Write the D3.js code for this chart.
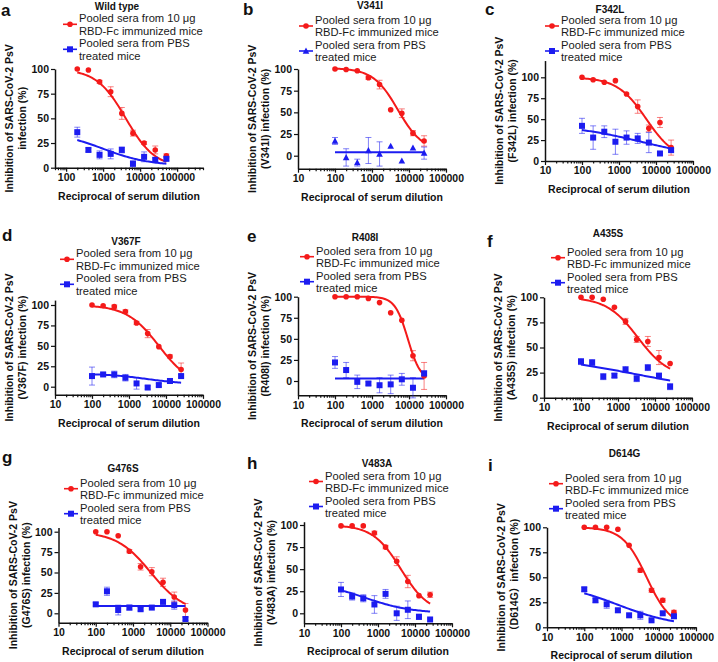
<!DOCTYPE html>
<html><head><meta charset="utf-8">
<script src="https://cdn.jsdelivr.net/npm/d3@7"></script>
<style>
body{margin:0;background:#fff}
svg{display:block}
text{font-family:"Liberation Sans",Arial,"Noto Sans CJK SC",sans-serif}
</style>
</head><body>
<svg id="chart" width="718" height="662"></svg>
<script>
// ---------------- data ----------------
const dilutionsWT = [200, 400, 800, 1600, 3200, 6400, 12800, 25600, 51200];
const dilutions = [100, 200, 400, 800, 1600, 3200, 6400, 12800, 25600];
const panelLetters = ["a", "b", "c", "d", "e", "f", "g", "h", "i"];
const panelTitles = ["Wild type", "V341I", "F342L", "V367F", "R408I", "A435S", "G476S", "V483A", "D614G"];
const yLabelLine1 = "Inhibition of SARS-CoV-2 PsV";
const yLabelLine2 = ["infection (%)", "(V341I) infection (%)", "(F342L) infection (%)", "(V367F) infection (%)",
  "(R408I) infection (%)", "(A435S) infection (%)", "(G476S) infection (%)", "(V483A) infection (%)", "（D614G）infection (%)"];
const xAxisTitle = "Reciprocal of serum dilution";
const legendRed = ["Pooled sera from 10 μg", "RBD-Fc immunized mice"];
const legendBlue = ["Pooled sera from PBS", "treated mice"];
const yTickValues = [0, 25, 50, 75, 100];
const xTickValues = [10, 100, 1000, 10000, 100000];

const redMeans = [
  [100, 99, 87, 77, 55, 35, 25, 18, 12],
  [100, 99.5, 98, 90, 82, 53, 49, 26, 17],
  [100, 97, 94, 96, 80, 65, 39, 46, 16],
  [100, 99, 98, 92, 78, 65, 49, 37, 21],
  [100, 100, 100, 98, 93, 81, 72, 30, 6],
  [100, 100, 98, 90, 76, 58, 56, 40, 34],
  [100, 100, 95, 76, 57, 51, 38, 20, 4],
  [99, 99, 99, 91, 75, 59, 36, 20, 21],
  [100, 100, 100, 98, 82, 57, 37, 27, 15]
];
const redErrors = [
  [1, 1, 1.5, 5, 6, 3, 1.5, 4, 2],
  [1, 1, 1, 2, 5, 1, 5, 3, 6],
  [1, 1, 1, 1, 1, 8, 4, 6, 9],
  [1, 1, 2, 2, 2, 5, 1, 2, 8],
  [1, 1, 1, 1, 1, 1, 1, 6, 16],
  [1, 1, 1, 1, 3, 3, 5, 7, 1],
  [1, 1, 1, 2, 4, 5, 5, 6, 8],
  [1, 1, 1, 2, 2, 5, 7, 1, 3],
  [1, 1, 1, 1, 1, 2, 2, 2, 2]
];
const blueMeans = [
  [36, 18, 13, 14, 18, 4, 11, 8, 9],
  [17, -2, -8, 6, 2, 11, -6, 9, 3],
  [42, 28, 35, 23, 28, 27, 22, 9, 13],
  [13, 15, 15, 11, 4, -1, 2, 7, 13],
  [22, 13, -1, -3, -5, -4, 2, -8, 9],
  [36, 35, 21, 22, 28, 19, 30, 22, 11],
  [11, 27, 4, 7, 5, 7, 14, 10, -7],
  [27, 19, 17, 10, 22, 0, 4, -4, -7],
  [38, 27, 23, 17, 12, 12, 7, 14, 11]
];
const blueErrors = [
  [5, 2, 4, 5, 3, 3, 5, 2, 2],
  [4, 10, 4, 15, 14, 1, 1, 1, 7],
  [9, 14, 7, 15, 8, 6, 12, 1, 2],
  [11, 2, 4, 4, 7, 2, 2, 3, 2],
  [7, 9, 8, 2, 9, 11, 7, 12, 3],
  [3, 3, 3, 2, 3, 3, 3, 2, 3],
  [2, 5, 6, 3, 2, 1, 1, 5, 2],
  [8, 4, 4, 10, 5, 8, 10, 3, 1],
  [2, 2, 4, 2, 1, 4, 1, 1, 2]
];
// fitted four-parameter logistic curves: [bottom, top, IC50, hill]
const redFits = [
  [0, 100, 4100, 1.1], [5, 101, 5000, 1.3], [0, 100, 5500, 1.1],
  [0, 100, 6400, 1.0], [0, 100, 9300, 2.5], [20, 100, 3430, 1.03],
  [0, 100, 3000, 0.95], [0, 100, 4160, 1.15], [0, 100, 4730, 1.35]
];
const blueFits = [
  [2, 36.4, 1000, 0.7], [4, 4, 1000, 1], [0, 45, 4440, 0.404],
  [3, 16, 3000, 0.8], [3, 3, 1000, 1], [0, 45, 4110, 0.272],
  [9, 9, 1000, 1], [0, 35, 459, 0.697], [0, 45, 806, 0.54]
];
const blueMarker = ["square", "triangle", "square", "square", "square", "square", "square", "square", "square"];

// ---------------- layout (positions only) ----------------
const layout = [
  {x0: 55, x1: 203, xd: [50, 500000], y100: 69, yz: 167.7, ymin: 0, ymax: 100, letter: [1, 16], title: [117, 10], leg: [79, 18.3]},
  {x0: 298, x1: 446, xd: [10, 100000], y100: 69, yz: 155.7, ymin: -15, ymax: 100, letter: [243, 15], title: [370, 9], leg: [315, 20]},
  {x0: 545, x1: 693, xd: [10, 100000], y100: 77.3, yz: 161, ymin: 0, ymax: 120, letter: [485, 15], title: [610, 13], leg: [561, 20]},
  {x0: 55, x1: 203, xd: [10, 100000], y100: 305, yz: 386.7, ymin: -10, ymax: 106, letter: [2, 241], title: [126, 244.5], leg: [76, 253.3]},
  {x0: 298, x1: 446, xd: [10, 100000], y100: 296.7, yz: 381, ymin: -17, ymax: 100, letter: [247, 242], title: [365, 240.5], leg: [316, 250.7]},
  {x0: 544, x1: 692, xd: [10, 100000], y100: 297.3, yz: 397.7, ymin: 0, ymax: 100, letter: [487, 246.5], title: [608, 237], leg: [567, 251.7]},
  {x0: 58.5, x1: 207.5, xd: [10, 100000], y100: 531.7, yz: 613.3, ymin: -11.5, ymax: 105, letter: [2, 462.5], title: [123, 472], leg: [80, 482.7]},
  {x0: 304, x1: 452, xd: [10, 100000], y100: 525, yz: 613.3, ymin: -11.3, ymax: 103.7, letter: [247, 469], title: [377, 467], leg: [325, 475.5]},
  {x0: 547, x1: 696, xd: [10, 100000], y100: 527.3, yz: 627.3, ymin: 0, ymax: 100, letter: [488, 470.5], title: [624.5, 457], leg: [565, 477.7]}
];

const RED = "#f41a1a";
const BLUE = "#1c1cf0";
const svg = d3.select("#chart");

function logistic(p, x) {
  return p[0] + (p[1] - p[0]) / (1 + Math.pow(x / p[2], p[3]));
}

function drawMarker(g, type, cx, cy, color) {
  if (type === "circle") {
    g.append("circle").attr("cx", cx).attr("cy", cy).attr("r", 2.8).attr("fill", color);
  } else if (type === "square") {
    g.append("rect").attr("x", cx - 3).attr("y", cy - 3).attr("width", 6).attr("height", 6).attr("fill", color);
  } else {
    g.append("path").attr("d", `M${cx},${cy - 3.5}L${cx + 3.3},${cy + 2.7}L${cx - 3.3},${cy + 2.7}Z`).attr("fill", color);
  }
}

panelTitles.forEach((title, i) => {
  const L = layout[i];
  const g = svg.append("g");
  const xs = i === 0 ? dilutionsWT : dilutions;

  const x = d3.scaleLog().domain(L.xd).range([L.x0, L.x1]);
  const k = (L.yz - L.y100) / 100;
  const y = d3.scaleLinear().domain([L.ymin, L.ymax]).range([L.yz - L.ymin * k, L.yz - L.ymax * k]);
  const yBottom = y(L.ymin);

  // panel letter + title
  g.append("text").attr("x", L.letter[0]).attr("y", L.letter[1]).text(panelLetters[i])
    .attr("font-size", 17).attr("font-weight", "bold").attr("fill", "#111");
  g.append("text").attr("x", L.title[0]).attr("y", L.title[1]).text(title)
    .attr("text-anchor", "middle").attr("font-size", 10).attr("font-weight", "bold").attr("fill", "#111");

  // legend
  const [tx, l1] = L.leg;
  const legItems = [
    {lines: legendRed, color: RED, marker: "circle", y: l1},
    {lines: legendBlue, color: BLUE, marker: blueMarker[i], y: l1 + 25}
  ];
  legItems.forEach(it => {
    g.append("line").attr("x1", tx - 16).attr("x2", tx - 2).attr("y1", it.y + 6).attr("y2", it.y + 6)
      .attr("stroke", it.color).attr("stroke-width", 1.6);
    drawMarker(g, it.marker, tx - 9, it.y + 6, it.color);
    it.lines.forEach((t, j) => {
      g.append("text").attr("x", tx).attr("y", it.y + 4 + j * 12.3).text(t)
        .attr("font-size", 11.2).attr("fill", "#1a1a1a");
    });
  });

  // axes
  const yAxis = d3.axisLeft(y).tickValues(yTickValues).tickSize(4).tickSizeOuter(0).tickPadding(2);
  const ya = g.append("g").attr("transform", `translate(${L.x0},0)`).call(yAxis);
  const majors = xTickValues.filter(v => v >= L.xd[0] && v <= L.xd[1]);
  const minors = [];
  for (let d = 10; d < L.xd[1]; d *= 10) {
    for (let m = 2; m <= 9; m++) {
      const v = d * m;
      if (v >= L.xd[0] && v <= L.xd[1]) minors.push(v);
    }
  }
  const xAxis = d3.axisBottom(x).tickValues(majors).tickFormat(d3.format("d")).tickSize(4).tickSizeOuter(0).tickPadding(2);
  const xa = g.append("g").attr("transform", `translate(0,${yBottom})`).call(xAxis);
  const xm = g.append("g").attr("transform", `translate(0,${yBottom})`)
    .call(d3.axisBottom(x).tickValues(minors).tickFormat("").tickSize(2.5).tickSizeOuter(0));
  xm.select(".domain").remove();
  [ya, xa, xm].forEach(a => {
    a.selectAll("path.domain").attr("stroke", "#111").attr("stroke-width", 1.5);
    a.selectAll(".tick line").attr("stroke", "#111").attr("stroke-width", 1.2);
    a.selectAll(".tick text").attr("font-size", 10.5).attr("font-weight", "bold").attr("fill", "#111")
      .attr("font-family", '"Liberation Sans", Arial, sans-serif');
  });

  // axis titles
  const yc = (y(L.ymin) + y(L.ymax)) / 2;
  g.append("text").attr("transform", `translate(${L.x0 - 42},${yc}) rotate(-90)`).text(yLabelLine1)
    .attr("text-anchor", "middle").attr("font-size", 10.5).attr("font-weight", "bold").attr("fill", "#111");
  g.append("text").attr("transform", `translate(${L.x0 - 29},${yc}) rotate(-90)`).text(yLabelLine2[i])
    .attr("text-anchor", "middle").attr("font-size", 10.5).attr("font-weight", "bold").attr("fill", "#111");
  g.append("text").attr("x", (L.x0 + L.x1) / 2).attr("y", yBottom + 32).text(xAxisTitle)
    .attr("text-anchor", "middle").attr("font-size", 10.5).attr("font-weight", "bold").attr("fill", "#111");

  // fitted curves
  const series = [
    {means: redMeans[i], errs: redErrors[i], fit: redFits[i], color: RED, marker: "circle"},
    {means: blueMeans[i], errs: blueErrors[i], fit: blueFits[i], color: BLUE, marker: blueMarker[i]}
  ];
  const lx0 = Math.log10(xs[0]), lx1 = Math.log10(xs[xs.length - 1]);
  const line = d3.line().x(d => x(d[0])).y(d => y(d[1]));
  series.forEach(s => {
    const pts = d3.range(0, 61).map(j => {
      const xv = Math.pow(10, lx0 + (lx1 - lx0) * j / 60);
      return [xv, logistic(s.fit, xv)];
    });
    g.append("path").attr("d", line(pts)).attr("fill", "none").attr("stroke", s.color).attr("stroke-width", 2);
  });
  // error bars and points
  series.forEach(s => {
    s.means.forEach((m, j) => {
      const cx = x(xs[j]);
      const e = s.errs[j];
      if (e > 1.2) {
        const eg = g.append("g").attr("stroke", s.color).attr("stroke-opacity", 0.55).attr("stroke-width", 1);
        eg.append("line").attr("x1", cx).attr("x2", cx).attr("y1", y(m - e)).attr("y2", y(m + e));
        eg.append("line").attr("x1", cx - 3).attr("x2", cx + 3).attr("y1", y(m - e)).attr("y2", y(m - e));
        eg.append("line").attr("x1", cx - 3).attr("x2", cx + 3).attr("y1", y(m + e)).attr("y2", y(m + e));
      }
      drawMarker(g, s.marker, cx, y(m), s.color);
    });
  });
});
</script>
</body></html>
